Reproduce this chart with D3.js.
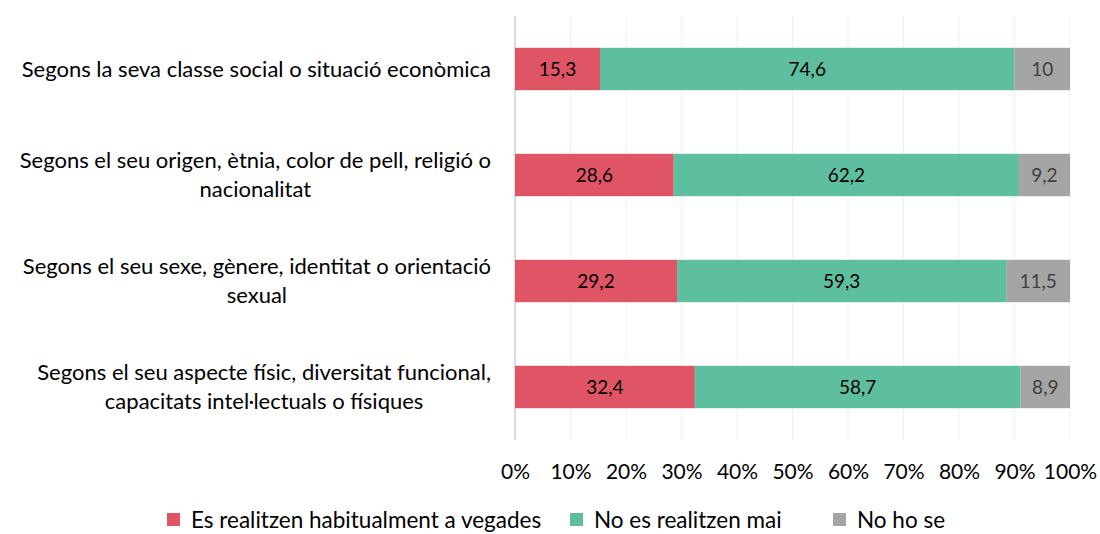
<!DOCTYPE html>
<html>
<head>
<meta charset="utf-8">
<script src="https://cdn.jsdelivr.net/npm/d3@7"></script>
<style>
  body { margin: 0; background: #fff; }
  text { font-family: Lato, "Open Sans", sans-serif; }
</style>
</head>
<body>
<script>
// categories (each label split in lines as in the original)
var categories = [
  ["Segons la seva classe social o situació econòmica"],
  ["Segons el seu origen, ètnia, color de pell, religió o", "nacionalitat"],
  ["Segons el seu sexe, gènere, identitat o orientació", "sexual"],
  ["Segons el seu aspecte físic, diversitat funcional,", "capacitats intel·lectuals o físiques"]
];
var seriesNames = ["Es realitzen habitualment a vegades", "No es realitzen mai", "No ho se"];
var habitualment = [15.3, 28.6, 29.2, 32.4];
var mai = [74.6, 62.2, 59.3, 58.7];
var noHoSe = [10, 9.2, 11.5, 8.9];
var ticks = [0, 0.1, 0.2, 0.3, 0.4, 0.5, 0.6, 0.7, 0.8, 0.9, 1];

var colors = ["#E05565", "#5DBF9F", "#A5A5A5"];
var labelColors = ["#000", "#000", "#404040"];

var width = 1100, height = 534;
var svg = d3.select("body").append("svg")
  .attr("width", width)
  .attr("height", height);

var x = d3.scaleLinear().domain([0, 1]).range([515, 1070]);
var y = d3.scaleBand().domain(d3.range(categories.length)).range([16, 440]).paddingInner(0.6).paddingOuter(0.3);

// build rows, normalized to 100% like the stacked chart
var rows = categories.map(function(c, i) {
  var vals = [habitualment[i], mai[i], noHoSe[i]];
  var total = d3.sum(vals);
  var acc = 0;
  return vals.map(function(v, k) {
    var seg = {row: i, k: k, v: v, x0: acc / total, x1: (acc + v) / total};
    acc += v;
    return seg;
  });
});

// gridlines
svg.append("g").selectAll("line")
  .data(ticks)
  .enter()
  .append("line")
  .attr("x1", function(d) { return x(d); })
  .attr("x2", function(d) { return x(d); })
  .attr("y1", 16)
  .attr("y2", 440)
  .attr("stroke", function(d) { return d === 0 ? "#D0D0D0" : "#EDF1F7"; })
  .attr("stroke-width", function(d) { return d === 0 ? 1.5 : 1; });

// x axis tick labels
var xAxis = d3.axisBottom(x).tickValues(ticks).tickSize(0)
  .tickFormat(function(d) { return Math.round(d * 100) + "%"; });
var ax = svg.append("g").attr("transform", "translate(0,461)").call(xAxis);
ax.select(".domain").remove();
ax.selectAll("text").attr("font-size", "21px").attr("fill", "#000").attr("font-family", "Lato, sans-serif");

// bars
var segs = svg.append("g").selectAll("g")
  .data(rows)
  .enter()
  .append("g");

segs.selectAll("rect")
  .data(function(d) { return d; })
  .enter()
  .append("rect")
  .attr("x", function(d) { return x(d.x0); })
  .attr("width", function(d) { return x(d.x1) - x(d.x0); })
  .attr("y", function(d) { return y(d.row); })
  .attr("height", y.bandwidth())
  .attr("fill", function(d) { return colors[d.k]; });

segs.selectAll("text")
  .data(function(d) { return d; })
  .enter()
  .append("text")
  .attr("x", function(d) { return (x(d.x0) + x(d.x1)) / 2; })
  .attr("y", function(d) { return y(d.row) + y.bandwidth() / 2; })
  .attr("dy", "0.35em")
  .attr("text-anchor", "middle")
  .attr("font-size", "19px")
  .attr("fill", function(d) { return labelColors[d.k]; })
  .text(function(d) { return String(d.v).replace(".", ","); });

// category labels: block right aligned, lines centred inside it
var lineH = 29;
categories.forEach(function(lines, i) {
  var g = svg.append("g");
  var cy = y(i) + y.bandwidth() / 2;
  var t = g.selectAll("text")
    .data(lines)
    .enter()
    .append("text")
    .attr("font-size", "22px")
    .attr("fill", "#000")
    .attr("text-anchor", "middle")
    .attr("dy", "0.35em")
    .attr("y", function(d, j) { return cy + (j - (lines.length - 1) / 2) * lineH; })
    .text(function(d) { return d; });
  var maxW = 0;
  t.each(function() { maxW = Math.max(maxW, this.getComputedTextLength()); });
  t.attr("x", 491 - maxW / 2);
});

// legend
var legendX = [167, 570, 833];
var leg = svg.append("g").selectAll("g")
  .data(seriesNames)
  .enter()
  .append("g")
  .attr("transform", function(d, i) { return "translate(" + legendX[i] + ",513)"; });
leg.append("rect")
  .attr("width", 13).attr("height", 13)
  .attr("fill", function(d, i) { return colors[i]; });
leg.append("text")
  .attr("x", 24)
  .attr("y", 7)
  .attr("dy", "0.35em")
  .attr("font-size", "22.5px")
  .attr("fill", "#000")
  .text(function(d) { return d; });
</script>
</body>
</html>
